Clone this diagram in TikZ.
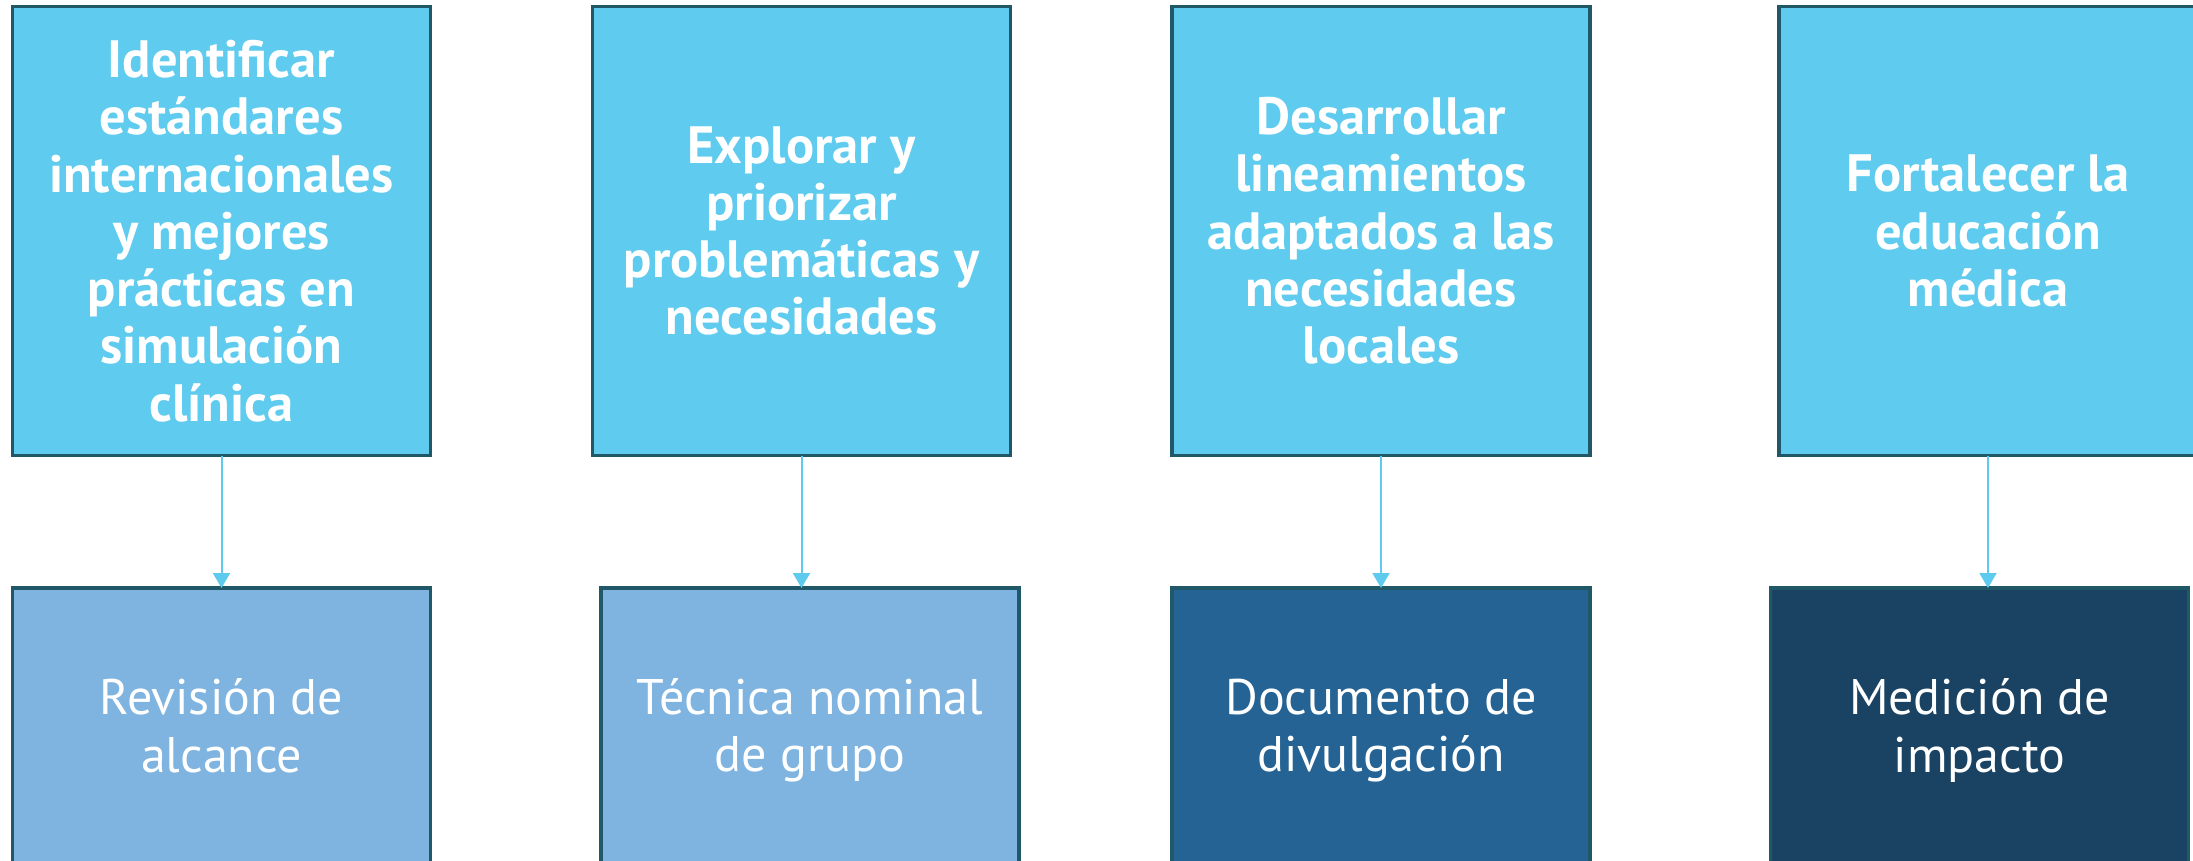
\documentclass[tikz,border=0pt]{standalone}
\usepackage{fontspec}
\setmainfont{PT Sans}
\usetikzlibrary{arrows.meta}
\definecolor{topfill}{HTML}{5FCBEE}
\definecolor{edge}{HTML}{215868}
\definecolor{lightfill}{HTML}{7FB4E0}
\definecolor{midfill}{HTML}{256394}
\definecolor{darkfill}{HTML}{1A4262}
\definecolor{arrowc}{HTML}{5DCAEE}
\begin{document}
\begin{tikzpicture}[x=1pt,y=-1pt,
  box/.style={draw=edge, line width=3.5pt, inner sep=0pt, outer sep=0pt,
    minimum width=418pt, align=center, text=white,
    font=\fontsize{50}{57.3}\selectfont},
  topbox/.style={box, fill=topfill, minimum height=449pt,
    font=\fontsize{52.5}{57.3}\selectfont\bfseries},
  botbox/.style={box, minimum height=285pt},
  link/.style={draw=arrowc, line width=2pt, -{Triangle[width=17pt,length=15pt]}}]
\useasboundingbox (0,0) rectangle (2193,860);
\node[topbox] (t1) at (221.5,231) {Identificar\\estándares\\internacionales\\y mejores\\prácticas en\\simulación\\clínica};
\node[topbox] (t2) at (801.5,231) {Explorar y\\priorizar\\problemáticas y\\necesidades};
\node[topbox] (t3) at (1381,231) {Desarrollar\\lineamientos\\adaptados a las\\necesidades\\locales};
\node[topbox] (t4) at (1988,231) {Fortalecer la\\educación\\médica};
\node[botbox, fill=lightfill] (b1) at (221.5,730.5) {Revisión de\\alcance\vphantom{p}};
\node[botbox, fill=lightfill] (b2) at (810,730.5) {Técnica nominal\\de grupo};
\node[botbox, fill=midfill] (b3) at (1381,730.5) {Documento de\\divulgación};
\node[botbox, fill=darkfill] (b4) at (1979.5,730.5) {Medición de\\impacto};
\draw[link] (t1.south) -- (t1.south |- b1.north);
\draw[link] (t2.south) -- (t2.south |- b2.north);
\draw[link] (t3.south) -- (t3.south |- b3.north);
\draw[link] (t4.south) -- (t4.south |- b4.north);
\end{tikzpicture}
\end{document}
